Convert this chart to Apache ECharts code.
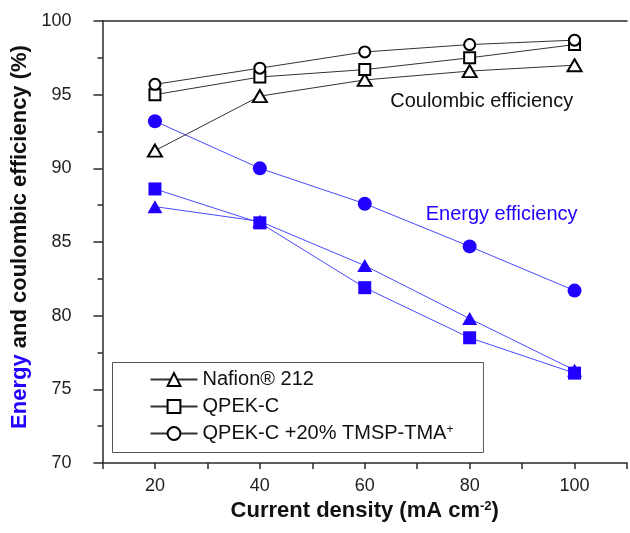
<!DOCTYPE html>
<html>
<head>
<meta charset="utf-8">
<script src="https://cdn.jsdelivr.net/npm/echarts@6/dist/echarts.min.js"></script>
<style>
html,body{margin:0;padding:0;background:#fff;}
#chart{width:630px;height:533px;}
</style>
</head>
<body>
<div id="chart"></div>
<script>
// Data
const currentDensity = [20, 40, 60, 80, 100];
const xTickLabels = [20, 40, 60, 80, 100];
const yTickLabels = [70, 75, 80, 85, 90, 95, 100];
const seriesNames = ['Nafion® 212', 'QPEK-C', 'QPEK-C +20% TMSP-TMA+'];
// Coulombic efficiency (%)
const ceNafion = [91.2, 94.9, 96.0, 96.6, 97.0];
const ceQPEKC = [95.0, 96.2, 96.7, 97.5, 98.4];
const ceQPEKCTMSP = [95.7, 96.8, 97.9, 98.4, 98.7];
// Energy efficiency (%)
const eeNafion = [87.4, 86.4, 83.4, 79.8, 76.3];
const eeQPEKC = [88.6, 86.3, 81.9, 78.5, 76.1];
const eeQPEKCTMSP = [93.2, 90.0, 87.6, 84.7, 81.7];

const BLUE = '#2200ff';
const BLUE_LINE = '#4a4aff';
const AXIS = '#2a2a2a';
const FONT = 'Liberation Sans';

function pairs(xs, ys) { return xs.map((x, i) => [x, ys[i]]); }

const symbols = ['triangle', 'rect', 'circle'];
const ceSizes = [[14, 12], 11, 11];
const eeSizes = [[15, 13], 13, 14];
const ceData = [ceNafion, ceQPEKC, ceQPEKCTMSP];
const eeData = [eeNafion, eeQPEKC, eeQPEKCTMSP];

const series = [];
eeData.forEach((d, i) => {
  series.push({
    name: seriesNames[i] + ' (EE)',
    type: 'line',
    data: pairs(currentDensity, d),
    symbol: symbols[i],
    symbolSize: eeSizes[i],
    itemStyle: { color: BLUE },
    lineStyle: { color: BLUE_LINE, width: 1 },
    z: 2
  });
});
ceData.forEach((d, i) => {
  series.push({
    name: seriesNames[i],
    type: 'line',
    data: pairs(currentDensity, d),
    symbol: symbols[i],
    symbolSize: ceSizes[i],
    showAllSymbol: true,
    itemStyle: { color: '#ffffff', borderColor: '#000', borderWidth: 2 },
    lineStyle: { color: '#333', width: 1 },
    z: 3
  });
});
// text annotations placed in data coordinates
series[3].markPoint = {
  symbol: 'circle', symbolSize: 1,
  itemStyle: { color: 'transparent' },
  label: { show: true, position: 'inside', fontFamily: FONT, fontSize: 20 },
  data: [
    { coord: [82.3, 94.55], label: { formatter: 'Coulombic efficiency', color: '#111' } },
    { coord: [86.1, 86.9], label: { formatter: 'Energy efficiency', color: BLUE } }
  ]
};

const chart = echarts.init(document.getElementById('chart'), null, { renderer: 'canvas' });
chart.setOption({
  animation: false,
  backgroundColor: '#fff',
  grid: { left: 102.5, top: 21, right: 0, bottom: 70 },
  legend: {
    data: seriesNames,
    orient: 'vertical',
    left: 112.5,
    top: 362.5,
    padding: [7, 30, 9, 37],
    itemGap: 7,
    itemWidth: 47,
    itemHeight: 16,
    borderColor: '#555',
    borderWidth: 1,
    textStyle: {
      fontFamily: FONT, fontSize: 20, color: '#111',
      rich: { sup: { fontFamily: FONT, fontSize: 12, verticalAlign: 'top', color: '#111' } }
    },
    formatter: function (name) {
      return name.endsWith('TMA+') ? name.slice(0, -1) + '{sup|+}' : name;
    }
  },
  xAxis: [{
    type: 'value',
    min: 10, max: 110, interval: 10,
    axisLine: { show: true, lineStyle: { color: AXIS, width: 1.5 } },
    axisTick: { show: true, length: 6, lineStyle: { color: AXIS, width: 1.5 } },
    splitLine: { show: false },
    axisLabel: {
      fontFamily: FONT, fontSize: 18, color: '#222', margin: 14,
      formatter: v => xTickLabels.indexOf(v) >= 0 ? String(v) : ''
    },
    name: 'Current density (mA cm{sup|-2})',
    nameLocation: 'middle',
    nameGap: 36,
    nameTextStyle: {
      fontFamily: FONT, fontSize: 22, fontWeight: 'bold', color: '#111',
      rich: { sup: { fontFamily: FONT, fontSize: 13, fontWeight: 'bold', verticalAlign: 'top', color: '#111' } }
    }
  }, {
    type: 'value', position: 'top',
    min: 10, max: 110, interval: 10,
    axisLine: { show: true, lineStyle: { color: AXIS, width: 1.5 } },
    axisTick: { show: false }, axisLabel: { show: false }, splitLine: { show: false }
  }],
  yAxis: {
    type: 'value',
    min: 70, max: 100, interval: 5,
    axisLine: { show: true, lineStyle: { color: AXIS, width: 1.5 } },
    axisTick: { show: true, length: 9, lineStyle: { color: AXIS, width: 1.5 } },
    minorTick: { show: true, splitNumber: 2, length: 5, lineStyle: { color: AXIS, width: 1.5 } },
    splitLine: { show: false },
    axisLabel: {
      fontFamily: FONT, fontSize: 18, color: '#222', margin: 31,
      formatter: v => yTickLabels.indexOf(v) >= 0 ? String(v) : ''
    },
    name: '{e|Energy} and coulombic efficiency (%)',
    nameLocation: 'middle',
    nameGap: 70,
    nameTextStyle: {
      fontFamily: FONT, fontSize: 22, fontWeight: 'bold', color: '#111',
      padding: [0, 0, 0, 10],
      rich: { e: { fontFamily: FONT, fontSize: 22, fontWeight: 'bold', color: BLUE } }
    }
  },
  series: series
});
</script>
</body>
</html>
